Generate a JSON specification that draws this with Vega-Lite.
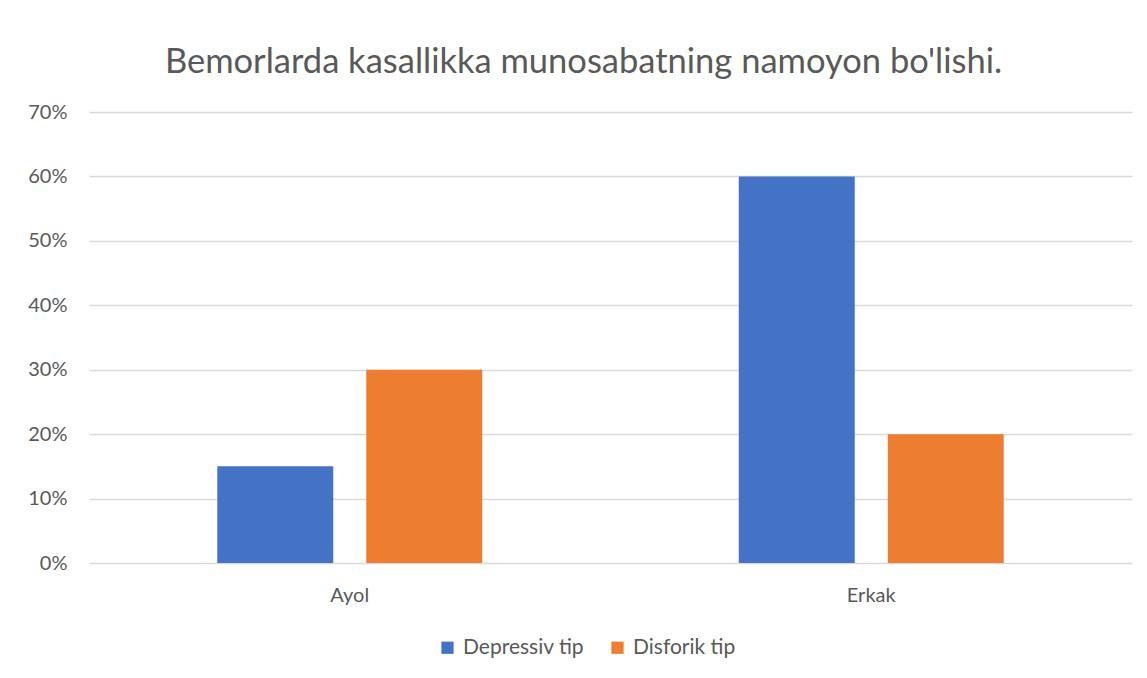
{
  "$schema": "https://vega.github.io/schema/vega-lite/v6.json",
  "width": 1043,
  "height": 451,
  "autosize": {"type": "none"},
  "padding": {"left": 89, "top": 112, "right": 15, "bottom": 115},
  "background": "white",
  "title": {
    "text": "Bemorlarda kasallikka munosabatning namoyon bo'lishi.",
    "font": "Lato",
    "fontSize": 34.5,
    "fontWeight": "normal",
    "color": "#595959",
    "anchor": "middle",
    "dx": -27,
    "offset": 22
  },
  "data": {
    "values": [
      {"jins": "Ayol", "tip": "Depressiv tip", "qiymat": 0.15},
      {"jins": "Ayol", "tip": "Disforik tip", "qiymat": 0.30},
      {"jins": "Erkak", "tip": "Depressiv tip", "qiymat": 0.60},
      {"jins": "Erkak", "tip": "Disforik tip", "qiymat": 0.20}
    ]
  },
  "mark": {"type": "bar"},
  "encoding": {
    "x": {
      "field": "jins",
      "type": "nominal",
      "scale": {"paddingInner": 0, "paddingOuter": 0},
      "axis": {
        "title": null,
        "labelAngle": 0,
        "domain": false,
        "ticks": false,
        "grid": false,
        "labelFont": "Lato",
        "labelFontSize": 20,
        "labelColor": "#595959",
        "labelPadding": 22
      }
    },
    "xOffset": {
      "field": "tip",
      "type": "nominal",
      "scale": {"paddingInner": 0.2215, "paddingOuter": 0.861}
    },
    "y": {
      "field": "qiymat",
      "type": "quantitative",
      "scale": {"domain": [0, 0.7], "nice": false},
      "axis": {
        "title": null,
        "format": ".0%",
        "values": [0, 0.1, 0.2, 0.3, 0.4, 0.5, 0.6, 0.7],
        "domain": false,
        "ticks": false,
        "grid": true,
        "gridColor": "#d9d9d9",
        "gridWidth": 1.5,
        "labelFont": "Lato",
        "labelFontSize": 20,
        "labelColor": "#595959",
        "labelPadding": 22
      }
    },
    "color": {
      "field": "tip",
      "type": "nominal",
      "scale": {"domain": ["Depressiv tip", "Disforik tip"], "range": ["#4472C4", "#ED7D31"]},
      "legend": {
        "title": null,
        "orient": "none",
        "direction": "horizontal",
        "legendX": 348,
        "legendY": 525,
        "symbolType": "square",
        "symbolSize": 150,
        "symbolStrokeWidth": 0,
        "symbolOpacity": 1,
        "labelFont": "Lato",
        "labelFontSize": 21,
        "labelColor": "#595959",
        "columnPadding": 22,
        "labelOffset": 5
      }
    }
  },
  "config": {"view": {"stroke": null}}
}
